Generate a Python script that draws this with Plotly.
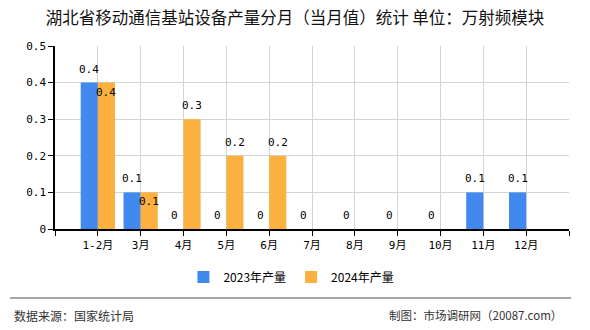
import plotly.graph_objects as go

categories = ["1-2月", "3月", "4月", "5月", "6月", "7月", "8月", "9月", "10月", "11月", "12月"]
values_2023 = [0.4, 0.1, 0, 0, 0, 0, 0, 0, 0, 0.1, 0.1]
values_2024 = [0.4, 0.1, 0.3, 0.2, 0.2, None, None, None, None, None, None]
series_names = ["2023年产量", "2024年产量"]
y_ticks = [0, 0.1, 0.2, 0.3, 0.4, 0.5]

BLUE = "#4189EE"
ORANGE = "#FBB040"
MONO = "DejaVu Sans Mono, Noto Sans CJK SC"
CJK = "Noto Sans CJK SC, sans-serif"

xpos = list(range(1, len(categories) + 1))

fig = go.Figure()
fig.add_trace(go.Bar(x=xpos, y=values_2023, name=series_names[0], marker_color=BLUE,
                     marker_line_width=0))
fig.add_trace(go.Bar(x=xpos, y=values_2024, name=series_names[1], marker_color=ORANGE,
                     marker_line_width=0))

def fmt(v):
    return "0" if v == 0 else ("%g" % v)

# 2023 labels above bars
for x, v in zip(xpos, values_2023):
    if v is None:
        continue
    fig.add_annotation(x=x - 0.2, y=v, text=fmt(v), showarrow=False, yanchor="bottom",
                       yshift=5, font=dict(family=MONO, size=11, color="#000"))
# 2024 labels: inside top when tied with neighbour label, else above
for x, v, o in zip(xpos, values_2024, values_2023):
    if v is None:
        continue
    inside = (o is not None and o == v)
    fig.add_annotation(x=x + 0.2, y=v, text=fmt(v), showarrow=False,
                       yanchor="top" if inside else "bottom",
                       yshift=-1 if inside else 5,
                       font=dict(family=MONO, size=11, color="#000"))

# separator line and footer
fig.add_shape(type="line", xref="paper", yref="paper", x0=-0.0875, x1=1.004,
              y0=-0.377, y1=-0.377, line=dict(color="#888", width=1.5))
fig.add_annotation(xref="paper", yref="paper", x=-0.0837, y=-0.47, xanchor="left",
                   yanchor="middle", text="数据来源：国家统计局", showarrow=False,
                   font=dict(family=CJK, size=12, color="#333"))
fig.add_annotation(xref="paper", yref="paper", x=0.99, y=-0.47, xanchor="right",
                   yanchor="middle", text="制图：市场调研网（20087.com）", showarrow=False,
                   font=dict(family=CJK, size=11.5, color="#333"))

fig.update_layout(
    width=590, height=330,
    margin=dict(l=55, r=21, t=46, b=101),
    paper_bgcolor="white", plot_bgcolor="white",
    barmode="group", bargap=0.2, bargroupgap=0,
    title=dict(text="湖北省移动通信基站设备产量分月（当月值）统计 单位：万射频模块",
               x=0.5, xanchor="center", y=0.945, yanchor="middle",
               font=dict(family=CJK, size=16.5, color="#111")),
    showlegend=True,
    legend=dict(orientation="h", x=0.46, xanchor="center", y=-0.262, yanchor="middle",
                font=dict(family=CJK, size=12, color="#000"), itemwidth=30,
                traceorder="normal"),
    xaxis=dict(range=[0, 12], tickmode="array", tickvals=list(range(0, 13)),
               ticktext=[""] + categories + [""],
               showgrid=True, gridcolor="#d4d4d4", gridwidth=1,
               showline=True, linecolor="#000", linewidth=1.5,
               ticks="outside", ticklen=5, tickcolor="#000",
               tickfont=dict(family=MONO, size=11, color="#000"), zeroline=False),
    yaxis=dict(range=[0, 0.5], tickmode="array", tickvals=y_ticks,
               ticktext=[fmt(t) for t in y_ticks],
               showgrid=True, gridcolor="#d4d4d4", gridwidth=1,
               showline=True, linecolor="#000", linewidth=1.5,
               ticks="outside", ticklen=5, tickcolor="#000",
               tickfont=dict(family=MONO, size=11, color="#000"), zeroline=False),
)

fig.write_html("out.html")
